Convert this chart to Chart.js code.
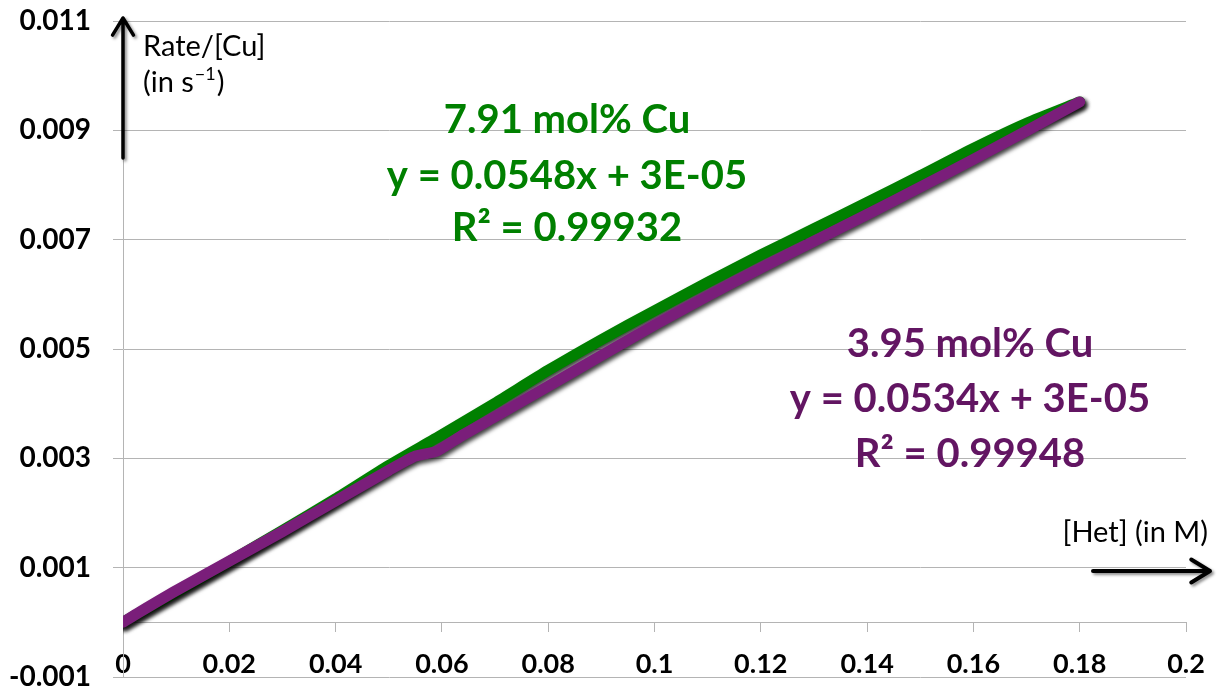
<!DOCTYPE html>
<html>
<head>
<meta charset="utf-8">
<script src="https://cdn.jsdelivr.net/npm/chart.js@4.4.1/dist/chart.umd.min.js"></script>
<style>
  html, body { margin: 0; padding: 0; background: #fff; }
  canvas { display: block; }
</style>
</head>
<body>
<canvas id="rateChart" width="1217" height="691"></canvas>
<script>
// ================= DATA =================

// 7.91 mol% Cu  (green)
const greenX = [0, 0.01, 0.02, 0.03, 0.04, 0.05, 0.06, 0.07, 0.08, 0.09, 0.10, 0.11, 0.12, 0.13, 0.14, 0.15, 0.16, 0.17, 0.18];
const greenY = [0, 0.00055, 0.00111, 0.00168, 0.00226, 0.00287, 0.00343, 0.00401, 0.00461, 0.00517, 0.00570, 0.00622, 0.00672, 0.00720, 0.00768, 0.00817, 0.00867, 0.00913, 0.00952];

// 3.95 mol% Cu  (purple)
const purpleX = [0, 0.003, 0.01, 0.02, 0.03, 0.04, 0.05, 0.055, 0.059, 0.0635, 0.07, 0.08, 0.09, 0.10, 0.11, 0.12, 0.13, 0.14, 0.15, 0.16, 0.17, 0.18];
const purpleY = [0, 0.00018, 0.00058, 0.00112, 0.00166, 0.00222, 0.00278, 0.00304, 0.00313, 0.00340, 0.00376, 0.00432, 0.00488, 0.00544, 0.00597, 0.00648, 0.00697, 0.00746, 0.00796, 0.00847, 0.00899, 0.00952];

const xTicks = [0, 0.02, 0.04, 0.06, 0.08, 0.1, 0.12, 0.14, 0.16, 0.18, 0.2];
const xTickLabels = ["0", "0.02", "0.04", "0.06", "0.08", "0.1", "0.12", "0.14", "0.16", "0.18", "0.2"];
const yTicks = [-0.001, 0.001, 0.003, 0.005, 0.007, 0.009, 0.011];
const yTickLabels = ["-0.001", "0.001", "0.003", "0.005", "0.007", "0.009", "0.011"];

const greenLabel = ["7.91 mol% Cu", "y = 0.0548x + 3E-05", "R\u00B2 = 0.99932"];
const purpleLabel = ["3.95 mol% Cu", "y = 0.0534x + 3E-05", "R\u00B2 = 0.99948"];

// ================= STYLE =================

const GREEN = "#008000";
const PURPLE_LINE = "#7a1e7a";
const PURPLE_TEXT = "#621562";
const GRID = "#b4b4b4";
const FONT = "Lato";

function points(xs, ys) {
  return xs.map((x, i) => ({ x: x, y: ys[i] }));
}

// drop shadow under the thick lines
const lineShadow = {
  id: "lineShadow",
  beforeDatasetDraw(chart) {
    const c = chart.ctx;
    c.save();
    c.shadowColor = "rgba(0,0,0,0.75)";
    c.shadowBlur = 4;
    c.shadowOffsetX = 2;
    c.shadowOffsetY = 3;
  },
  afterDatasetDraw(chart) {
    chart.ctx.restore();
  }
};

function arrow(c, x1, y1, x2, y2, head, width) {
  const a = Math.atan2(y2 - y1, x2 - x1);
  c.save();
  c.strokeStyle = "#000";
  c.lineWidth = width;
  c.lineCap = "round";
  c.lineJoin = "round";
  c.shadowColor = "rgba(0,0,0,0.45)";
  c.shadowBlur = 3;
  c.shadowOffsetX = 2;
  c.shadowOffsetY = 2;
  c.beginPath();
  c.moveTo(x1, y1);
  c.lineTo(x2, y2);
  c.moveTo(x2 - head * Math.cos(a - 0.55), y2 - head * Math.sin(a - 0.55));
  c.lineTo(x2, y2);
  c.lineTo(x2 - head * Math.cos(a + 0.55), y2 - head * Math.sin(a + 0.55));
  c.stroke();
  c.restore();
}

// arrows, axis titles and fit equations
const decorations = {
  id: "decorations",
  afterDraw(chart) {
    const c = chart.ctx;
    const ax = chart.scales.x.getPixelForValue(0);

    arrow(c, ax, 158, ax, 18, 20, 3.5);
    arrow(c, 1093, 571, 1210, 571, 22, 4);

    c.save();
    c.fillStyle = "#000";
    c.font = "29px " + FONT;
    c.textAlign = "left";
    c.textBaseline = "alphabetic";
    c.fillText("Rate/[Cu]", 143, 56);
    let px = 143;
    c.fillText("(in s", px, 92);
    px += c.measureText("(in s").width + 1;
    c.font = "18px " + FONT;
    c.fillText("\u22121", px, 80);
    px += c.measureText("\u22121").width + 1;
    c.font = "29px " + FONT;
    c.fillText(")", px, 92);

    c.textAlign = "right";
    c.fillText("[Het] (in M)", 1208, 542);

    c.font = "bold 40px " + FONT;
    c.textAlign = "center";
    c.fillStyle = GREEN;
    [133, 189, 241].forEach((y, i) => c.fillText(greenLabel[i], 567, y));
    c.fillStyle = PURPLE_TEXT;
    [357, 412, 467].forEach((y, i) => c.fillText(purpleLabel[i], 970, y));
    c.restore();
  }
};

const ctx = document.getElementById("rateChart").getContext("2d");
const rateChart = new Chart(ctx, {
  type: "scatter",
  data: {
    datasets: [
      {
        label: "3.95 mol% Cu",
        data: points(purpleX, purpleY),
        showLine: true,
        borderColor: PURPLE_LINE,
        backgroundColor: PURPLE_LINE,
        borderWidth: 11,
        borderCapStyle: "round",
        borderJoinStyle: "round",
        pointRadius: 0,
        tension: 0.2
      },
      {
        label: "7.91 mol% Cu",
        data: points(greenX, greenY),
        showLine: true,
        borderColor: GREEN,
        backgroundColor: GREEN,
        borderWidth: 11,
        borderCapStyle: "round",
        borderJoinStyle: "round",
        pointRadius: 0,
        tension: 0.2
      }
    ]
  },
  options: {
    responsive: false,
    animation: false,
    devicePixelRatio: 1,
    layout: { padding: { top: 21, right: 31, bottom: 14, left: 0 } },
    plugins: {
      legend: { display: false },
      tooltip: { enabled: false }
    },
    scales: {
      x: {
        type: "linear",
        min: 0,
        max: 0.2,
        position: { y: 0 },
        afterBuildTicks: s => { s.ticks = xTicks.map(v => ({ value: v })); },
        afterFit: s => { s.paddingLeft = 0; s.paddingRight = 0; s.paddingTop = 0; s.paddingBottom = 0; },
        ticks: {
          callback: (v, i) => xTickLabels[i],
          color: "#000",
          font: { family: FONT, size: 27, weight: "bold" },
          padding: 17,
          autoSkip: false,
          maxRotation: 0
        },
        grid: { drawOnChartArea: false, drawTicks: true, tickLength: 9, color: GRID },
        border: { color: GRID }
      },
      y: {
        type: "linear",
        min: -0.001,
        max: 0.011,
        position: "left",
        afterBuildTicks: s => { s.ticks = yTicks.map(v => ({ value: v })); },
        afterFit: s => { s.width = 123; s.paddingTop = 0; s.paddingBottom = 0; },
        ticks: {
          callback: (v, i) => yTickLabels[i],
          color: "#000",
          font: { family: FONT, size: 28, weight: "bold" },
          padding: 22,
          autoSkip: false
        },
        grid: { color: GRID, tickLength: 10 },
        border: { color: GRID }
      }
    }
  },
  plugins: [lineShadow, decorations]
});
</script>
</body>
</html>
